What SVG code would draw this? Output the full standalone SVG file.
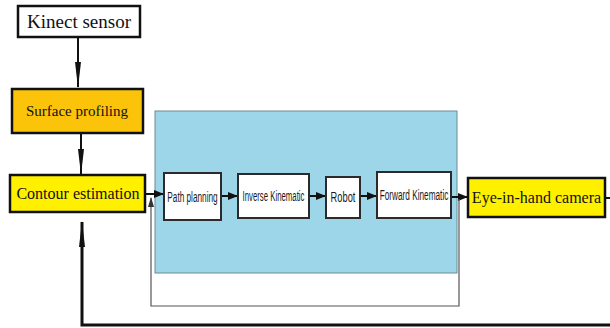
<svg xmlns="http://www.w3.org/2000/svg" width="610" height="328" viewBox="0 0 610 328">
<style>
.big{font-family:"Liberation Serif","Times New Roman",serif;fill:#111}
.small{font-family:"Liberation Sans",Arial,sans-serif;font-size:15px;fill:#1a1a1a}
.bx{stroke:#111;stroke-width:2.5}
.sb{fill:#fff;stroke:#2b2b2b;stroke-width:2}
.ln{fill:none;stroke:#111;stroke-width:2}
</style>
<defs>
<marker id="ah" markerWidth="10" markerHeight="8" refX="9" refY="4" orient="auto" markerUnits="userSpaceOnUse">
<path d="M0,0 L10,4 L0,8 Z" fill="#111"/>
</marker>
<marker id="al" markerWidth="26" markerHeight="8" refX="25" refY="4" orient="auto" markerUnits="userSpaceOnUse">
<path d="M0,1 L26,4 L0,7 Z" fill="#111"/>
</marker>
<marker id="ag" markerWidth="10" markerHeight="6" refX="9" refY="3" orient="auto" markerUnits="userSpaceOnUse">
<path d="M0,0 L10,3 L0,6 Z" fill="#333"/>
</marker>
</defs>
<rect x="0" y="0" width="610" height="328" fill="#fff"/>
<rect id="panel" x="155" y="111" width="302" height="162" fill="#9ED6E9" stroke="#6a8a96" stroke-width="1"/>
<g id="connectors">
<line class="ln" x1="78" y1="37" x2="78" y2="87" marker-end="url(#al)"/>
<line class="ln" x1="81" y1="134" x2="81" y2="174" marker-end="url(#al)"/>
<line class="ln" x1="146" y1="194" x2="163" y2="194" marker-end="url(#ah)"/>
<line class="ln" x1="221" y1="196" x2="237" y2="196" marker-end="url(#ah)"/>
<line class="ln" x1="309" y1="196" x2="325" y2="196" marker-end="url(#ah)"/>
<line class="ln" x1="360" y1="196" x2="376" y2="196" marker-end="url(#ah)"/>
<line class="ln" x1="451" y1="197" x2="467" y2="197" marker-end="url(#ah)"/>
<line class="ln" x1="605" y1="198" x2="610" y2="198"/>
<polyline points="459,199 459,306 151,306 151,198" fill="none" stroke="#555" stroke-width="1.2" marker-end="url(#ag)"/>
<polyline points="610,325 82,325 82,222" fill="none" stroke="#111" stroke-width="3" marker-end="url(#al)"/>
</g>
<g id="kinect">
<rect class="bx" x="18" y="6" width="122" height="31" fill="#fff"/>
<text class="big" x="79" y="28" font-size="19" text-anchor="middle">Kinect sensor</text>
</g>
<g id="surface">
<rect class="bx" x="12" y="89" width="131" height="44" fill="#FCC30B"/>
<text class="big" x="77" y="116" font-size="15" text-anchor="middle">Surface profiling</text>
</g>
<g id="contour">
<rect class="bx" x="10" y="175" width="135" height="37" fill="#FFF000"/>
<text class="big" x="78" y="199" font-size="16" text-anchor="middle">Contour estimation</text>
</g>
<g id="path">
<rect class="sb" x="164" y="173" width="57" height="47"/>
<text class="small" transform="translate(192.5,202) scale(0.55,1)" text-anchor="middle">Path planning</text>
</g>
<g id="inverse">
<rect class="sb" x="238" y="174" width="71" height="44"/>
<text class="small" transform="translate(273.5,201) scale(0.52,1)" text-anchor="middle">Inverse Kinematic</text>
</g>
<g id="robot">
<rect class="sb" x="326" y="177" width="34" height="41"/>
<text class="small" transform="translate(343,202) scale(0.62,1)" text-anchor="middle">Robot</text>
</g>
<g id="forward">
<rect class="sb" x="377" y="172" width="74" height="46"/>
<text class="small" transform="translate(414,200) scale(0.55,1)" text-anchor="middle">Forward Kinematic</text>
</g>
<g id="camera">
<rect class="bx" x="468" y="178" width="137" height="39" fill="#FFF000"/>
<text class="big" x="536.5" y="203" font-size="16" text-anchor="middle">Eye-in-hand camera</text>
</g>
</svg>
